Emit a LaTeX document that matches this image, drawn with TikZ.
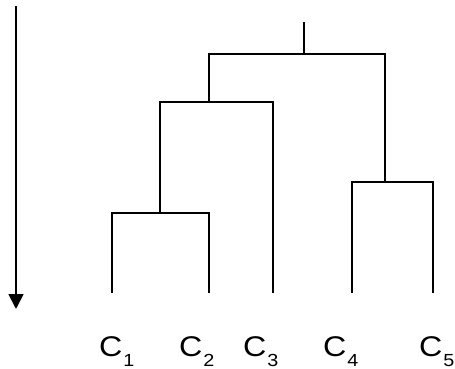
\documentclass[tikz,border=0pt]{standalone}
\usepackage{graphicx}
\usepackage{fontspec}
\setmainfont{Liberation Sans}
\usetikzlibrary{arrows.meta}
\newcommand{\clab}[1]{\scalebox{1.13}[1]{{\fontsize{28.5}{28.5}\selectfont C}\kern1pt\raisebox{-10pt}{\fontsize{17.5}{17.5}\selectfont #1}}}
\begin{document}
\begin{tikzpicture}[x=1pt,y=-1pt,
  link/.style={line width=1.8pt, line join=miter, line cap=butt},
  axis/.style={line width=1.8pt, -{Triangle[width=15pt,length=15pt]}},
  lab/.style={anchor=base west, inner sep=0pt, outer sep=0pt}]
\useasboundingbox (0,0) rectangle (455,369);
% time axis
\coordinate (atop) at (16,6);
\coordinate (abot) at (16,309);
\draw[axis] (atop) -- (abot);
% leaves
\coordinate (l1) at (112,293);
\coordinate (l2) at (208.7,293);
\coordinate (l3) at (272.7,293);
\coordinate (l4) at (352.3,293);
\coordinate (l5) at (432.7,293);
% merges
\coordinate (n12) at (160.3,213.3);
\coordinate (n123) at (208.7,101.7);
\coordinate (n45) at (385,182);
\coordinate (root) at (304,53.7);
\coordinate (stem) at (304,22);
\draw[link] (l1) |- (n12) -| (l2);
\draw[link] (n12) |- (n123) -| (l3);
\draw[link] (l4) |- (n45) -| (l5);
\draw[link] (n123) |- (root) -| (n45);
\draw[link] (root) -- (stem);
% labels
\node[lab] (c1) at (99,356) {\clab{1}};
\node[lab] (c2) at (179,356) {\clab{2}};
\node[lab] (c3) at (243,356) {\clab{3}};
\node[lab] (c4) at (323,356) {\clab{4}};
\node[lab] (c5) at (419,356) {\clab{5}};
\end{tikzpicture}
\end{document}
